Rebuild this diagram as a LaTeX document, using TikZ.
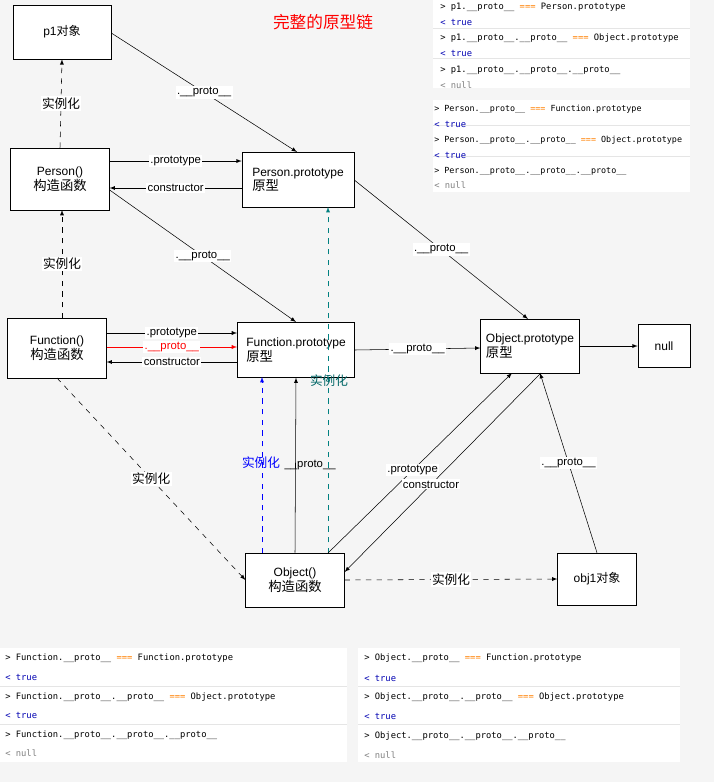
\documentclass[tikz,border=0pt]{standalone}
\usepackage{fontspec}
\setmainfont{Liberation Sans}
\newfontfamily\cjk{Noto Sans CJK SC}
\newfontfamily\mono{DejaVu Sans Mono}
\begin{document}
\begin{tikzpicture}[x=0.75pt,y=-0.75pt,
 box/.style={draw,fill=white,inner sep=0pt,align=center,font=\fontsize{9}{11}\selectfont},
 lab/.style={fill=white,inner sep=1pt,font=\fontsize{8.5}{10}\selectfont},
 cl/.style={font=\cjk\fontsize{9.5}{11}\selectfont,fill=white,inner sep=1pt},
 arr/.style={->,>=latex},
 dsh/.style={->,>=latex,dash pattern=on 4pt off 4pt},
 code/.style={anchor=west,font=\mono\fontsize{6.6}{7}\selectfont,inner sep=0pt},
 res/.style={anchor=west,font=\mono\fontsize{6.6}{7}\selectfont,inner sep=0pt},
 codes/.style={code,font=\mono\fontsize{6.3}{7}\selectfont}]
\fill[black!4] (0,0) rectangle (714,782);
\useasboundingbox (0,0) rectangle (714,782);
% panels
\fill[white] (433,0) rectangle (690,88);
\fill[white] (433,100) rectangle (690,192);
\fill[white] (0,648) rectangle (347,762);
\fill[white] (358,648) rectangle (680,762);
\foreach \y in {28,58,125,156}{\draw[black!10] (433,\y)--(690,\y);}
\foreach \y in {686,724}{\draw[black!10] (0,\y)--(347,\y);\draw[black!10] (358,\y)--(680,\y);}
\node[code] (c1) at (440,7) {> p1.\_\_proto\_\_ \textcolor{orange}{===} Person.prototype};
\node[res,text=blue!70!black] (c2) at (440,22) {< true};
\node[code] (c3) at (440,38) {> p1.\_\_proto\_\_.\_\_proto\_\_ \textcolor{orange}{===} Object.prototype};
\node[res,text=blue!70!black] (c4) at (440,53) {< true};
\node[code] (c5) at (440,70) {> p1.\_\_proto\_\_.\_\_proto\_\_.\_\_proto\_\_};
\node[res,text=gray] (c6) at (440,85) {< null};
\node[codes] (c7) at (434,109) {> Person.\_\_proto\_\_ \textcolor{orange}{===} Function.prototype};
\node[res,text=blue!70!black] (c8) at (434,124) {< true};
\node[codes] (c9) at (434,140) {> Person.\_\_proto\_\_.\_\_proto\_\_ \textcolor{orange}{===} Object.prototype};
\node[res,text=blue!70!black] (c10) at (434,155) {< true};
\node[codes] (c11) at (434,171) {> Person.\_\_proto\_\_.\_\_proto\_\_.\_\_proto\_\_};
\node[res,text=gray] (c12) at (434,185) {< null};
\node[code] (d1) at (5,658) {> Function.\_\_proto\_\_ \textcolor{orange}{===} Function.prototype};
\node[res,text=blue!70!black] (d2) at (5,677) {< true};
\node[code] (d3) at (5,697) {> Function.\_\_proto\_\_.\_\_proto\_\_ \textcolor{orange}{===} Object.prototype};
\node[res,text=blue!70!black] (d4) at (5,715) {< true};
\node[code] (d5) at (5,735) {> Function.\_\_proto\_\_.\_\_proto\_\_.\_\_proto\_\_};
\node[res,text=gray] (d6) at (5,753) {< null};
\node[code] (e1) at (364,658) {> Object.\_\_proto\_\_ \textcolor{orange}{===} Function.prototype};
\node[res,text=blue!70!black] (e2) at (364,678) {< true};
\node[code] (e3) at (364,697) {> Object.\_\_proto\_\_.\_\_proto\_\_ \textcolor{orange}{===} Object.prototype};
\node[res,text=blue!70!black] (e4) at (364,716) {< true};
\node[code] (e5) at (364,736) {> Object.\_\_proto\_\_.\_\_proto\_\_.\_\_proto\_\_};
\node[res,text=gray] (e6) at (364,755) {< null};
% title
\node[text=red,font=\cjk\fontsize{12.5}{14}\selectfont] (title) at (323,22) {完整的原型链};
% boxes
\node[box,minimum width=73.5pt,minimum height=40.5pt] (p1) at (62,32) {p1{\cjk 对象}};
\node[box,minimum width=74pt,minimum height=46.5pt] (P) at (60,179) {Person()\\{\cjk\fontsize{10}{12}\selectfont 构造函数}};
\node[box,minimum width=84pt,minimum height=41pt,align=left] (PP) at (298,180) {Person.prototype\\{\cjk\fontsize{10}{12}\selectfont 原型}};
\node[box,minimum width=74pt,minimum height=45pt] (F) at (57,348) {Function()\\{\cjk\fontsize{10}{12}\selectfont 构造函数}};
\node[box,minimum width=88pt,minimum height=41pt,align=left] (FP) at (296,350) {Function.prototype\\{\cjk\fontsize{10}{12}\selectfont 原型}};
\node[box,minimum width=74pt,minimum height=40.5pt,align=left] (OP) at (530,346) {Object.prototype\\{\cjk\fontsize{10}{12}\selectfont 原型}};
\node[box,minimum width=39pt,minimum height=32pt] (null) at (664,346) {null};
\node[box,minimum width=74pt,minimum height=40.5pt] (O) at (295,580) {Object()\\{\cjk\fontsize{10}{12}\selectfont 构造函数}};
\node[box,minimum width=59pt,minimum height=39pt] (o1) at (597,579) {obj1{\cjk 对象}};
% edges
\draw[arr] (p1.east|-0,33) -- node[lab]{.\_\_proto\_\_} (297,152);
\draw[dsh] (P.north) -- node[cl]{实例化} (p1.south);
\draw[arr] (P.east|-0,161) -- node[lab]{.prototype} (PP.west|-0,161);
\draw[arr] (PP.west|-0,188) -- node[lab]{constructor} (P.east|-0,188);
\draw[arr] (P.east|-0,190) -- node[lab]{.\_\_proto\_\_} (296,322);
\draw[arr] (PP.east) -- node[lab]{.\_\_proto\_\_} (528,319);
\draw[dsh] (62,318) -- node[cl]{实例化} (62,210);
\draw[arr] (F.east|-0,333) -- node[lab]{.prototype} (FP.west|-0,333);
\draw[arr,red] (F.east|-0,347) -- node[lab]{.\_\_proto\_\_} (FP.west|-0,347);
\draw[arr] (FP.west|-0,362) -- node[lab]{constructor} (F.east|-0,362);
\draw[dsh] (57,378) -- node[cl]{实例化} (O.west);
\draw[arr] (FP.east) -- node[lab]{.\_\_proto\_\_} (OP.west|-0,348);
\draw[arr] (OP.east) -- (null.west);
\draw[arr] (O.north) -- (FP.south);
\node[lab,anchor=west,fill=none] (pl) at (283,465) {\_\_proto\_\_};
\draw[dsh,blue] (262,553) -- (262,377);
\node[cl,text=blue,fill=none] (bl) at (261,463) {实例化};
\draw[dsh,teal] (328,553) -- (328,207);
\node[font=\cjk\fontsize{9.5}{11}\selectfont,text=teal!80!black,inner sep=0pt] (tl) at (329,381) {实例化};
\draw[arr] (328,553) -- node[lab,pos=0.46]{.prototype} (512,373);
\draw[arr] (541,373) -- node[lab,pos=0.56]{constructor} (O.east|-0,572);
\draw[arr] (o1.north) -- node[lab]{.\_\_proto\_\_} (540,373);
\draw[dsh] (O.east) -- node[cl]{实例化} (o1.west);
\end{tikzpicture}
\end{document}
